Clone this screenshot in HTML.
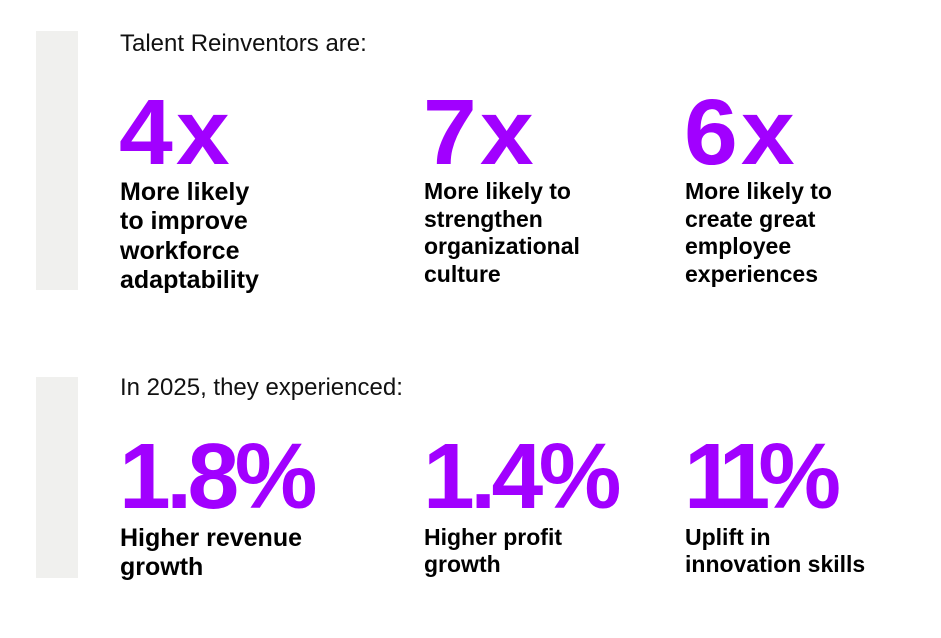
<!DOCTYPE html>
<html><head><meta charset="utf-8"><style>
body{margin:0;width:941px;height:638px;background:#fff;position:relative;overflow:hidden;font-family:"Liberation Sans",sans-serif;color:#000}
.bar{position:absolute;left:36px;width:42px;background:#f0f0ee}
.h{position:absolute;font-size:24px;color:#111}
.n{position:absolute;font-size:93px;font-weight:bold;color:#a100ff;letter-spacing:-4.5px;line-height:1}
.x{letter-spacing:3px;transform:scaleX(1.04);transform-origin:left}
.l{position:absolute;font-size:23px;font-weight:bold;line-height:28px}
.b{font-size:25px}
</style></head><body>
<div class="bar" style="top:31px;height:259px"></div>
<div class="bar" style="top:377px;height:201px"></div>
<div class="h" style="left:120px;top:30px">Talent Reinventors are:</div>
<div class="n x" style="left:119px;top:86px">4x</div>
<div class="n x" style="left:423px;top:86px">7x</div>
<div class="n x" style="left:684px;top:86px">6x</div>
<div class="l b" style="left:120px;top:178px;line-height:29.3px">More likely<br>to improve<br>workforce<br>adaptability</div>
<div class="l" style="left:424px;top:178px;line-height:27.7px">More likely to<br>strengthen<br>organizational<br>culture</div>
<div class="l" style="left:685px;top:178px;line-height:27.7px">More likely to<br>create great<br>employee<br>experiences</div>
<div class="h" style="left:120px;top:374px">In 2025, they experienced:</div>
<div class="n" style="left:119px;top:430px">1.8%</div>
<div class="n" style="left:423px;top:430px">1.4%</div>
<div class="n" style="left:684px;top:430px;letter-spacing:-12px">11%</div>
<div class="l b" style="left:120px;top:524px;line-height:29px">Higher revenue<br>growth</div>
<div class="l" style="left:424px;top:524px;line-height:27px">Higher profit<br>growth</div>
<div class="l" style="left:685px;top:524px;line-height:27px">Uplift in<br>innovation skills</div>
</body></html>
